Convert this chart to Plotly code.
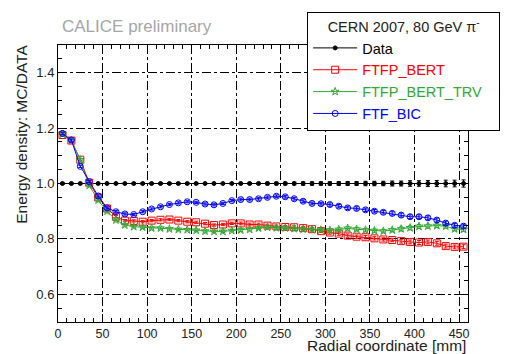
import plotly.graph_objects as go

# Radial bin centres [mm]
radius = [5, 15, 25, 35, 45, 55, 65, 75, 85, 95, 105, 115, 125, 135, 145, 155, 165, 175, 185, 195,
          205, 215, 225, 235, 245, 255, 265, 275, 285, 295, 305, 315, 325, 335, 345, 355, 365, 375,
          385, 395, 405, 415, 425, 435, 445, 455]

data_ratio = [1.0] * 46
data_err = [0.003] * 20 + [0.004, 0.004, 0.004, 0.005, 0.005, 0.005, 0.005, 0.006, 0.006, 0.006,
                           0.006, 0.007, 0.007, 0.007, 0.008, 0.008, 0.008, 0.009, 0.009, 0.010,
                           0.010, 0.011, 0.011, 0.012, 0.012, 0.013]

ftfp_bert = [1.175, 1.155, 1.086, 1.003, 0.950, 0.910, 0.880, 0.866, 0.865, 0.862, 0.866, 0.869,
             0.870, 0.866, 0.862, 0.860, 0.855, 0.850, 0.852, 0.856, 0.856, 0.852, 0.852, 0.848,
             0.845, 0.843, 0.842, 0.839, 0.835, 0.828, 0.823, 0.819, 0.812, 0.808, 0.806, 0.802,
             0.798, 0.796, 0.792, 0.789, 0.787, 0.789, 0.784, 0.774, 0.771, 0.772]

ftfp_bert_trv = [1.178, 1.155, 1.085, 0.993, 0.940, 0.900, 0.868, 0.850, 0.844, 0.842, 0.839, 0.839,
                 0.836, 0.834, 0.833, 0.831, 0.828, 0.827, 0.827, 0.830, 0.832, 0.834, 0.839, 0.842,
                 0.840, 0.839, 0.837, 0.835, 0.834, 0.832, 0.831, 0.834, 0.838, 0.835, 0.832, 0.830,
                 0.828, 0.832, 0.836, 0.840, 0.845, 0.846, 0.848, 0.846, 0.836, 0.834]

ftf_bic = [1.181, 1.157, 1.062, 1.007, 0.955, 0.912, 0.898, 0.890, 0.888, 0.898, 0.908, 0.916,
           0.924, 0.930, 0.934, 0.932, 0.926, 0.923, 0.928, 0.938, 0.942, 0.942, 0.945, 0.950,
           0.954, 0.952, 0.945, 0.936, 0.928, 0.927, 0.924, 0.918, 0.912, 0.910, 0.905, 0.900,
           0.896, 0.892, 0.886, 0.880, 0.880, 0.876, 0.868, 0.857, 0.849, 0.846]

mc_err = [0.004] * 20 + [0.005] * 10 + [0.006] * 8 + [0.007] * 8

x_ticks = [0, 50, 100, 150, 200, 250, 300, 350, 400, 450]
y_ticks = [0.6, 0.8, 1.0, 1.2, 1.4]

FONT = "Liberation Sans, Arial, sans-serif"

fig = go.Figure()


def add_series(y, err, name, color, symbol, size, pad=""):
    fig.add_trace(go.Scatter(
        x=radius, y=y, mode="markers+lines",
        name=f"<span style='color:{color}'>{name}</span>{pad}",
        line=dict(color=color, width=1),
        marker=dict(symbol=symbol, size=size, color=color, line=dict(color=color, width=1)),
        error_y=dict(type="data", array=err, color=color, thickness=1, width=2),
    ))


add_series(data_ratio, data_err, "Data", "#000000", "circle", 4)
add_series(ftfp_bert, mc_err, "FTFP_BERT", "#ff0000", "square-open", 7)
add_series(ftfp_bert_trv, mc_err, "FTFP_BERT_TRV", "#33a833", "star-open", 6, "&nbsp;&nbsp;&nbsp;")
add_series(ftf_bic, mc_err, "FTF_BIC", "#0000ff", "circle-open", 6)

grid_dash = "dashdot"

fig.update_xaxes(
    range=[0, 460], tickvals=x_ticks, ticktext=[str(v) for v in x_ticks],
    showline=True, linecolor="black", linewidth=1, mirror="ticks",
    ticks="inside", ticklen=8, tickcolor="black",
    showgrid=True, gridcolor="black", gridwidth=1, griddash=grid_dash,
    minor=dict(dtick=10, ticks="inside", ticklen=4, tickcolor="black", showgrid=False),
    zeroline=False, tickfont=dict(family=FONT, size=12.5, color="#222"),
)
fig.update_yaxes(
    range=[0.5, 1.5], tickvals=y_ticks, ticktext=[f"{v:.1f}" for v in y_ticks],
    showline=True, linecolor="black", linewidth=1, mirror="ticks",
    ticks="inside", ticklen=8, tickcolor="black",
    showgrid=True, gridcolor="black", gridwidth=1, griddash=grid_dash,
    minor=dict(dtick=0.05, ticks="inside", ticklen=4, tickcolor="black", showgrid=False),
    zeroline=False, tickfont=dict(family=FONT, size=13, color="#222"),
)

fig.update_layout(
    width=512, height=354,
    margin=dict(l=58, r=41, t=44, b=32),
    paper_bgcolor="white", plot_bgcolor="white",
    font=dict(family=FONT, color="#222"),
    showlegend=True,
    legend=dict(
        x=0.6077, y=1.1187, xanchor="left", yanchor="top",
        bgcolor="white", bordercolor="black", borderwidth=1,
        font=dict(family=FONT, size=14.5, color="#222"),
        title=dict(text="CERN 2007, 80 GeV π<sup>-</sup>", side="top center",
                   font=dict(family=FONT, size=14.5, color="#222")),
        itemwidth=44,
    ),
    annotations=[
        dict(text="CALICE preliminary", xref="paper", yref="paper", x=0.005, y=1.0 + (44 - 25) / 278,
             xanchor="left", yanchor="middle", showarrow=False,
             font=dict(family=FONT, size=17, color="#a6a6a6")),
        dict(text="Radial coordinate [mm]", xref="paper", yref="paper", x=1.0, y=-(346 - 322) / 278,
             xanchor="right", yanchor="middle", showarrow=False,
             font=dict(family=FONT, size=15.5, color="#222")),
        dict(text="Energy density: MC/DATA", xref="paper", yref="paper", x=-(58 - 21) / 413, y=1.0 + 2 / 278,
             xanchor="center", yanchor="top", showarrow=False, textangle=-90,
             font=dict(family=FONT, size=15.5, color="#222")),
    ],
)

fig.write_html("out.html")
